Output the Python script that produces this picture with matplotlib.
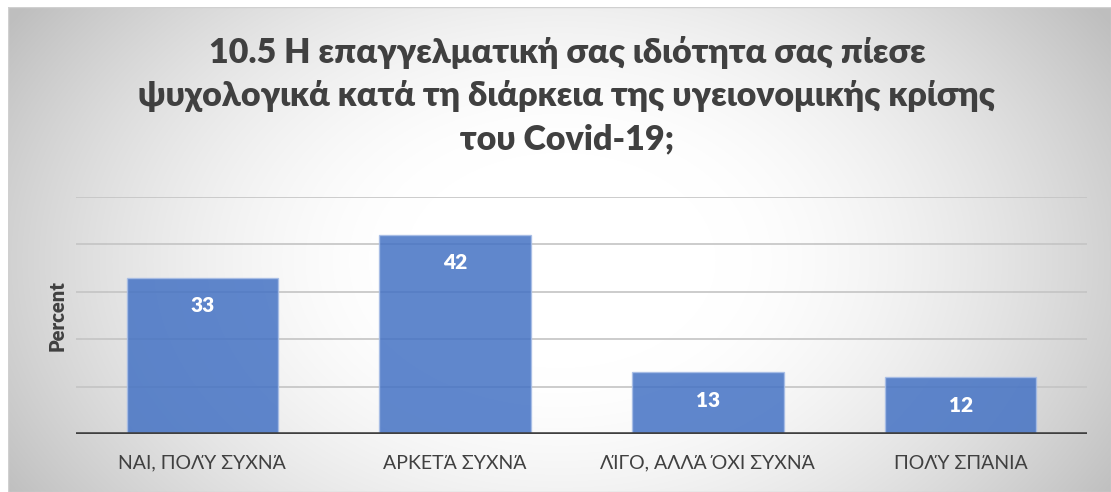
import numpy as np
import matplotlib
matplotlib.use("Agg")
import matplotlib.pyplot as plt

# ---- data ----
categories = ["ΝΑΙ, ΠΟΛΎ ΣΥΧΝΆ", "ΑΡΚΕΤΆ ΣΥΧΝΆ", "ΛΊΓΟ, ΑΛΛΆ ΌΧΙ ΣΥΧΝΆ", "ΠΟΛΎ ΣΠΆΝΙΑ"]
percent = [33, 42, 13, 12]
title_lines = ["10.5 Η επαγγελματική σας ιδιότητα σας πίεσε",
               "ψυχολογικά κατά τη διάρκεια της υγειονομικής κρίσης",
               "του Covid-19;"]
y_label = "Percent"
y_max = 50
y_step = 10

plt.rcParams["font.family"] = ["Lato", "Open Sans", "DejaVu Sans"]

W, H = 1111, 492
fig = plt.figure(figsize=(W / 100, H / 100), dpi=100)
fig.patch.set_facecolor("white")


def fx(px):
    return px / W


def fy(py):
    return 1 - py / H


# chart-area background with a radial white-to-grey fill
x0, y0, x1, y1 = 8, 7, 1111, 492
bg = fig.add_axes([fx(x0), fy(y1), fx(x1 - x0), (y1 - y0) / H])
gx, gy = np.meshgrid(np.arange(x0, x1), np.arange(y0, y1))
r = np.sqrt(((gx - 560) / 620.0) ** 2 + ((gy - 260) / 430.0) ** 2)
t = np.clip((r - 0.25) / 0.8, 0, 1) ** 1.6
shade = 255 - (255 - 190) * t
img = np.dstack([shade, shade, shade]).astype(np.uint8)
bg.imshow(img, aspect="auto", interpolation="bilinear")
bg.set_axis_off()
bg.add_patch(plt.Rectangle((0, 0), 1, 1, transform=bg.transAxes, fill=False,
                           edgecolor="#d0d0d0", lw=1.0))

# plot area
left, right, top, bottom = 76, 1087, 197, 434
ax = fig.add_axes([fx(left), fy(bottom), fx(right - left), (bottom - top) / H])
ax.set_facecolor("none")
xpos = np.arange(len(categories))
ax.set_xlim(-0.5, len(categories) - 0.5)
ax.set_ylim(0, y_max)

for v in range(y_step, y_max + 1, y_step):
    ax.axhline(v, color="#c4c4c4", lw=1.2, zorder=1)

ax.bar(xpos, percent, width=0.6, color="#4472c4", alpha=0.85,
       edgecolor="#a7bde6", linewidth=1.0, zorder=2)
ax.axhline(0, color="#404040", lw=2.6, zorder=3)

for xi, v in zip(xpos, percent):
    ax.annotate(str(v), (xi, v), xytext=(0, -28), textcoords="offset pixels",
                ha="center", va="center", color="white", fontsize=15,
                fontweight="heavy", zorder=4)

for s in ax.spines.values():
    s.set_visible(False)
ax.set_yticks([])
ax.set_xticks(xpos)
ax.set_xticklabels(categories, fontsize=14, color="#404040")
ax.tick_params(axis="x", length=0, pad=15)

fig.text(fx(57.5), fy(315.5), y_label, rotation=90, ha="center", va="center",
         fontsize=14.5, fontweight="heavy", color="#404040")

for line, base in zip(title_lines, [63.3, 106, 149]):
    fig.text(fx(567), fy(base), line, ha="center", va="baseline",
             fontsize=24.5, fontweight="heavy", color="#404040")

fig.savefig("out.png", dpi=100)
